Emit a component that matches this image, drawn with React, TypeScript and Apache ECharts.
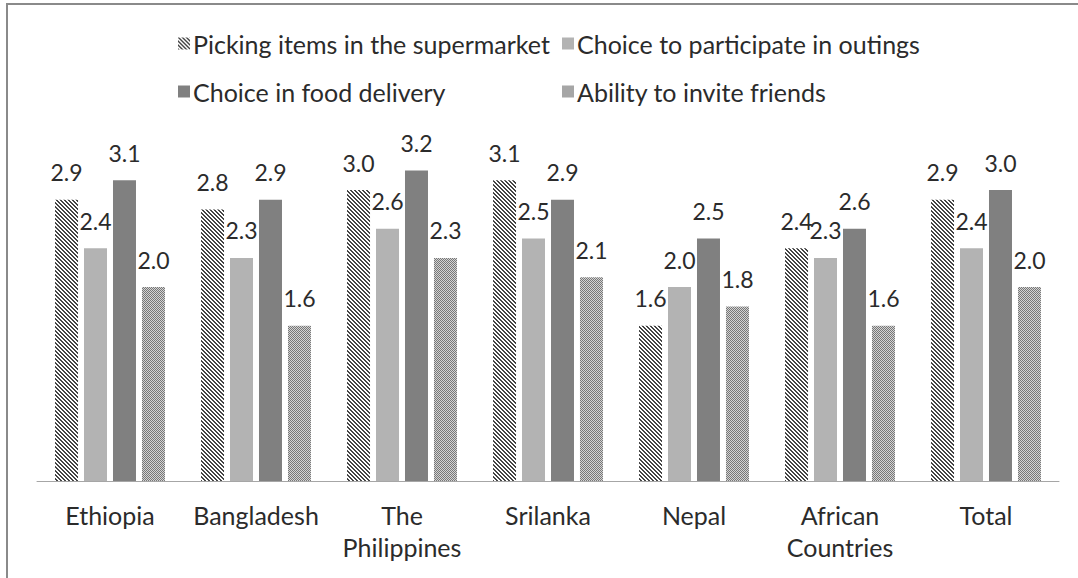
import React, { useEffect, useRef } from "react";
import * as echarts from "echarts";

const categories = [
  "Ethiopia",
  "Bangladesh",
  "The\nPhilippines",
  "Srilanka",
  "Nepal",
  "African\nCountries",
  "Total",
];
const seriesNames = [
  "Picking items in the supermarket",
  "Choice to participate in outings",
  "Choice in food delivery",
  "Ability to invite friends",
];
const pickingItems = [2.9, 2.8, 3.0, 3.1, 1.6, 2.4, 2.9];
const outings = [2.4, 2.3, 2.6, 2.5, 2.0, 2.3, 2.4];
const foodDelivery = [3.1, 2.9, 3.2, 2.9, 2.5, 2.6, 3.0];
const inviteFriends = [2.0, 1.6, 2.3, 2.1, 1.8, 1.6, 2.0];

const FONT = "Lato";
const TEXT = "#2b2b2b";
const FS = 25;
const LABEL_FS = 23;

function makePattern(size: number, fn: (x: number, y: number) => string) {
  const c = document.createElement("canvas");
  c.width = size;
  c.height = size;
  const ctx = c.getContext("2d")!;
  for (let y = 0; y < size; y++) {
    for (let x = 0; x < size; x++) {
      ctx.fillStyle = fn(x, y);
      ctx.fillRect(x, y, 1, 1);
    }
  }
  return { image: c, repeat: "repeat", imageWidth: size, imageHeight: size } as any;
}

export default function App() {
  const ref = useRef<HTMLDivElement>(null);
  useEffect(() => {
    if (!ref.current) return;
    const chart = echarts.init(ref.current, null, { renderer: "svg" });
    const stripe = makePattern(4, (x, y) => (((x - y + 8) % 4) < 2 ? "#444444" : "#ffffff"));
    const dots = makePattern(2, (x, y) => ((x + y) % 2 === 0 ? "#777777" : "#d4d4d4"));
    const fills = [stripe, "#b3b3b3", "#808080", dots];
    const datas = [pickingItems, outings, foodDelivery, inviteFriends];
    const legendPos = [
      { left: 178, top: 31 },
      { left: 562, top: 31 },
      { left: 178, top: 79 },
      { left: 562, top: 79 },
    ];
    chart.setOption({
      animation: false,
      backgroundColor: "#ffffff",
      legend: seriesNames.map((n, i) => ({
        data: [n],
        left: legendPos[i].left,
        top: legendPos[i].top,
        itemWidth: 12,
        itemHeight: 12,
        icon: "rect",
        selectedMode: false,
        padding: 0,
        textStyle: { fontSize: FS, fontFamily: FONT, color: TEXT, padding: [0, 0, 0, -2] },
      })),
      grid: { left: 37, right: 19, top: 141.5, bottom: 97, containLabel: false },
      xAxis: {
        type: "category",
        data: categories,
        axisLine: { show: true, lineStyle: { color: "#a6a6a6", width: 1 } },
        axisTick: { show: false },
        axisLabel: {
          fontSize: FS,
          fontFamily: FONT,
          color: TEXT,
          margin: 18,
          lineHeight: 32,
          interval: 0,
        },
      },
      yAxis: {
        type: "value",
        min: 0,
        max: 3.5,
        show: false,
        splitLine: { show: false },
      },
      graphic: [
        { type: "line", shape: { x1: 6, y1: 4, x2: 1078, y2: 4 }, style: { stroke: "#8a8a8a", lineWidth: 2 } },
        { type: "line", shape: { x1: 7, y1: 3, x2: 7, y2: 578 }, style: { stroke: "#8a8a8a", lineWidth: 2 } },
      ],
      series: seriesNames.map((n, i) => ({
        name: n,
        type: "bar",
        data: datas[i],
        barWidth: 23,
        barGap: "26%",
        itemStyle: { color: fills[i] },
        label: {
          show: true,
          position: "top",
          distance: 16,
          fontSize: LABEL_FS,
          fontFamily: FONT,
          color: TEXT,
          formatter: (p: any) => Number(p.value).toFixed(1),
        },
      })),
    });
    return () => chart.dispose();
  }, []);
  return (
    <div
      ref={ref}
      style={{ position: "absolute", left: 0, top: 0, width: 1078, height: 578 }}
    />
  );
}
